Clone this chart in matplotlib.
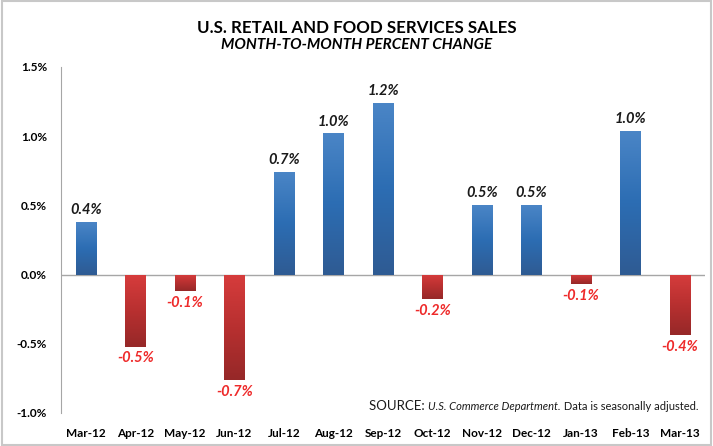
import numpy as np
import matplotlib.pyplot as plt
from matplotlib.colors import LinearSegmentedColormap

months = ['Mar-12', 'Apr-12', 'May-12', 'Jun-12', 'Jul-12', 'Aug-12', 'Sep-12',
          'Oct-12', 'Nov-12', 'Dec-12', 'Jan-13', 'Feb-13', 'Mar-13']
change = [0.38, -0.52, -0.12, -0.76, 0.74, 1.02, 1.24, -0.18, 0.50, 0.50, -0.07, 1.04, -0.44]
labels = ['0.4%', '-0.5%', '-0.1%', '-0.7%', '0.7%', '1.0%', '1.2%',
          '-0.2%', '0.5%', '0.5%', '-0.1%', '1.0%', '-0.4%']
yticks = [-1.0, -0.5, 0.0, 0.5, 1.0, 1.5]

plt.rcParams['font.family'] = ['Lato', 'DejaVu Sans']

blue_cm = LinearSegmentedColormap.from_list('b', ['#2f5b93', '#2c6db3', '#4a85c6'])
red_cm = LinearSegmentedColormap.from_list('r', ['#962828', '#b83030', '#d63c3c'])

fig = plt.figure(figsize=(7.13, 4.46), dpi=100)
ax = fig.add_axes([0.0856, 0.074, 0.903, 0.776])

x = np.arange(len(months))
w = 0.41
grad = np.linspace(0, 1, 100).reshape(-1, 1)
for xi, v in zip(x, change):
    bar = ax.bar(xi, v, width=w, color='none', edgecolor='none')[0]
    cm = blue_cm if v >= 0 else red_cm
    im = ax.imshow(grad, cmap=cm, aspect='auto', origin='lower',
                   extent=[xi - w / 2, xi + w / 2, min(0, v), max(0, v)], zorder=2)
    im.set_clip_path(bar)

for xi, v, lab in zip(x, change, labels):
    if v >= 0:
        ax.text(xi, v + 0.035, lab, ha='center', va='bottom', fontsize=10.5,
                fontweight='bold', style='italic', color='#1a1a1a')
    else:
        ax.text(xi, v - 0.035, lab, ha='center', va='top', fontsize=10.5,
                fontweight='bold', style='italic', color='#ee2a2a')

ax.axhline(0, color='#a6a6a6', lw=1, zorder=1)
ax.set_xlim(-0.5, len(months) - 0.5)
ax.set_ylim(-1.0, 1.5)
ax.set_yticks(yticks)
ax.set_yticklabels([f'{t:.1f}%' for t in yticks], fontsize=8.5, fontweight='bold')
ax.set_xticks(x)
ax.set_xticklabels(months, fontsize=8.5, fontweight='bold')
ax.tick_params(axis='both', length=0)
ax.tick_params(axis='x', pad=11)
ax.tick_params(axis='y', pad=10)
for s in ['top', 'right', 'bottom']:
    ax.spines[s].set_visible(False)
ax.spines['left'].set_color('#a6a6a6')

fig.text(0.5, 0.938, 'U.S. RETAIL AND FOOD SERVICES SALES', ha='center', va='center',
         fontsize=12.2, fontweight='bold')
fig.text(0.5, 0.898, 'MONTH-TO-MONTH PERCENT CHANGE', ha='center', va='center',
         fontsize=11, fontweight='bold', style='italic')

t3 = ax.text(0.99, 0.003, ' Data is seasonally adjusted.', transform=ax.transAxes,
             ha='right', va='bottom', fontsize=8, color='#1a1a1a')
t2 = ax.annotate('U.S. Commerce Department.', xycoords=t3, xy=(0, 0), ha='right', va='bottom',
                 fontsize=8, style='italic', color='#1a1a1a')
ax.annotate('SOURCE: ', xycoords=t2, xy=(0, 0), ha='right', va='bottom',
            fontsize=9.5, color='#1a1a1a')

border = plt.Rectangle((0.003, 0.003), 0.994, 0.994, transform=fig.transFigure,
                       fill=False, edgecolor='#c8c8c8', lw=1.5)
fig.patches.append(border)

fig.savefig('out.png', dpi=100)
